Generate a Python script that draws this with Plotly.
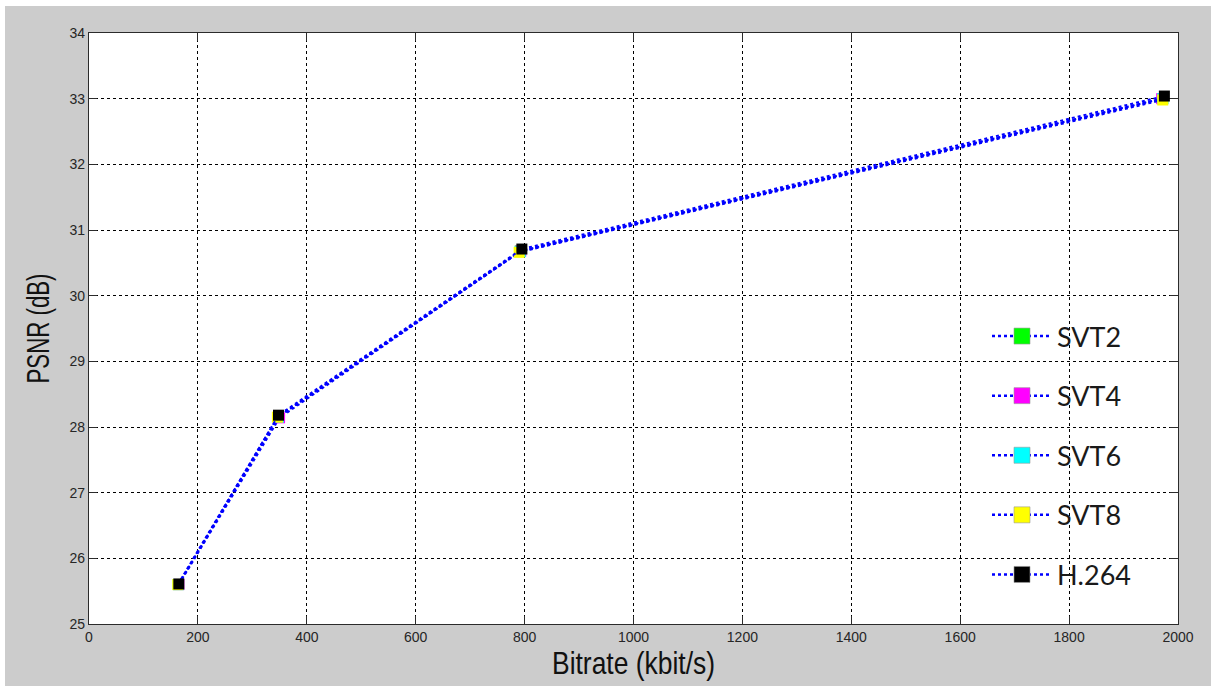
import plotly.graph_objects as go

# ---- data ----
series_names = ["SVT2", "SVT4", "SVT6", "SVT8", "H.264"]
bitrate_svt2 = [164, 348, 792, 1972]
psnr_svt2 = [25.60, 28.16, 30.68, 33.00]
bitrate_svt4 = [165, 350, 793, 1970]
psnr_svt4 = [25.60, 28.14, 30.68, 33.00]
bitrate_svt6 = [164, 348, 792, 1972]
psnr_svt6 = [25.60, 28.15, 30.67, 33.00]
bitrate_svt8 = [163, 346, 790, 1972]
psnr_svt8 = [25.60, 28.15, 30.66, 32.98]
bitrate_h264 = [165, 348, 795, 1975]
psnr_h264 = [25.61, 28.18, 30.71, 33.04]
x_ticks = [0, 200, 400, 600, 800, 1000, 1200, 1400, 1600, 1800, 2000]
y_ticks = [25, 26, 27, 28, 29, 30, 31, 32, 33, 34]

marker_colors = ["#00FF00", "#FF00FF", "#00FFFF", "#FFFF00", "#000000"]
xs = [bitrate_svt2, bitrate_svt4, bitrate_svt6, bitrate_svt8, bitrate_h264]
ys = [psnr_svt2, psnr_svt4, psnr_svt6, psnr_svt8, psnr_h264]

fig = go.Figure()
LINE_BLUE = "#0000FF"
for name, x, y, c in zip(series_names, xs, ys, marker_colors):
    fig.add_trace(go.Scatter(
        x=x, y=y, mode="lines+markers", name=name, showlegend=False,
        line=dict(color=LINE_BLUE, width=2, dash="dot"),
        marker=dict(symbol="square", size=11, color=c,
                    line=dict(width=0)),
    ))
# legend entries (larger markers, as in the reference legend)
for name, c in zip(series_names, marker_colors):
    fig.add_trace(go.Scatter(
        x=[None], y=[None], mode="lines+markers", name=name,
        legendgroup=name,
        line=dict(color=LINE_BLUE, width=2.5, dash="dot"),
        marker=dict(symbol="square", size=16, color=c,
                    line=dict(width=0.6, color="#999999")),
    ))

L, R, T, B = 89, 33, 33, 62
W, H = 1211, 686
pw = W - L - R
ph = H - T - B

def px_x(p):
    return (p - L) / pw

def px_y(p):
    return (H - B - p) / ph

axis_common = dict(
    showline=True, linecolor="#2b2b2b", linewidth=1.3, mirror="ticks",
    ticks="inside", ticklen=8, tickcolor="#2b2b2b",
    showgrid=True, gridcolor="#000000", gridwidth=1, griddash="3px,3px",
    zeroline=False,
    tickfont=dict(family="Liberation Sans, Arial, sans-serif", size=14, color="#262626"),
)
title_font = dict(family="Liberation Sans, Arial, sans-serif", size=32, color="#111111")

fig.update_layout(
    width=W, height=H,
    margin=dict(l=L, r=R, t=T, b=B),
    paper_bgcolor="#CCCCCC", plot_bgcolor="#FFFFFF",
    xaxis=dict(range=[0, 2000], tickvals=x_ticks, **axis_common,
               title=dict(text="Bitrate (kbit/s)", standoff=6, font=title_font)),
    yaxis=dict(range=[25, 34], tickvals=y_ticks, **axis_common,
               title=dict(text="PSNR (dB)", standoff=10, font=title_font)),
    legend=dict(
        x=px_x(987), y=px_y(312), xanchor="left", yanchor="top",
        bgcolor="rgba(0,0,0,0)", borderwidth=0,
        font=dict(family="Lato, Open Sans, sans-serif", size=27, color="#1a1a1a"),
        tracegroupgap=21.5, traceorder="grouped", itemwidth=60,
    ),
    shapes=[
        # white patch behind the legend (hides grid there)
        dict(type="rect", xref="paper", yref="paper", layer="between",
             x0=px_x(970), x1=px_x(1177), y0=px_y(608), y1=px_y(302),
             fillcolor="#FFFFFF", line=dict(width=0)),
        # thin white border strips of the figure window (top and left)
        dict(type="rect", xref="paper", yref="paper", layer="below",
             x0=px_x(0), x1=px_x(W), y0=px_y(6), y1=px_y(0),
             fillcolor="#FFFFFF", line=dict(width=0)),
        dict(type="rect", xref="paper", yref="paper", layer="below",
             x0=px_x(0), x1=px_x(5), y0=px_y(H), y1=px_y(0),
             fillcolor="#FFFFFF", line=dict(width=0)),
    ],
)

# condense the axis titles horizontally (the reference uses a narrow face)
post = """
var gd = document.getElementById('{plot_id}');
function squeeze(){
  var xt = gd.querySelector('.xtitle');
  if (xt) { xt.setAttribute('textLength', '163'); xt.setAttribute('lengthAdjust', 'spacingAndGlyphs'); }
  var yt = gd.querySelector('.ytitle');
  if (yt) { yt.setAttribute('textLength', '110'); yt.setAttribute('lengthAdjust', 'spacingAndGlyphs'); }
}
squeeze();
gd.on && gd.on('plotly_afterplot', squeeze);
"""

fig.write_html("out.html", post_script=post)
